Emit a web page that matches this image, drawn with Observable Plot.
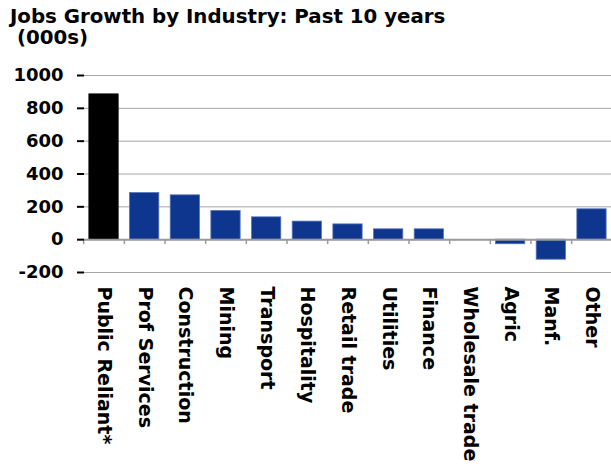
<!DOCTYPE html>
<html><head><meta charset="utf-8">
<script src="https://cdn.jsdelivr.net/npm/d3@7"></script>
<script src="https://cdn.jsdelivr.net/npm/@observablehq/plot@0.6"></script>
<style>
body{margin:0;background:#fff;font-family:"DejaVu Sans",Verdana,sans-serif;}
#title{font-weight:bold;font-size:19.8px;line-height:21px;padding:6px 0 0 10px;height:60px;box-sizing:border-box;white-space:pre;color:#000;}
#chart svg{display:block;}
</style></head><body>
<div id="title">Jobs Growth by Industry: Past 10 years
 (000s)</div>
<div id="chart"></div>
<script>
const industries = ["Public Reliant*","Prof Services","Construction","Mining","Transport","Hospitality","Retail trade","Utilities","Finance","Wholesale trade","Agric","Manf.","Other"];
const jobsGrowth = [885, 284, 270, 175, 136, 110, 93, 63, 63, 0, -28, -122, 185];
const highlight = "Public Reliant*";
const yTicks = [-200, 0, 200, 400, 600, 800, 1000];

const data = industries.map((name, i) => ({name, value: jobsGrowth[i]}));

const W = 611, ML = 84, MR = 0;
const padIn = 0.28, padOut = 0.12;
const step = (W - ML - MR) / (industries.length - padIn + 2 * padOut);

const chart = Plot.plot({
  width: W,
  height: 406,
  marginLeft: ML,
  marginRight: MR,
  marginTop: 15,
  marginBottom: 194,
  style: {fontFamily: "'DejaVu Sans', Verdana, sans-serif", fontWeight: "bold", color: "#000", background: "#fff"},
  x: {domain: industries, paddingInner: padIn, paddingOuter: padOut, round: false, label: null},
  y: {domain: [-200, 1000], label: null},
  marks: [
    Plot.ruleY(yTicks, {stroke: "#a6a6a6", strokeWidth: 1}),
    Plot.barY(data, {x: "name", y: "value", fill: d => d.name === highlight ? "#000" : "#0f368f",
      stroke: d => d.name === highlight ? "#000" : "#5574b8", strokeWidth: 0.8}),
    Plot.ruleY([0], {stroke: "#9a9a9a", strokeWidth: 2}),
    Plot.ruleX(industries, {x: d => d, y1: 0, y2: -30, dx: -step / 2, stroke: "#9a9a9a", strokeWidth: 1.5}),
    Plot.axisY({ticks: yTicks, tickFormat: d => String(d), tickSize: 7, tickPadding: 14, fontSize: 18, fontWeight: "bold", stroke: "#000", strokeWidth: 2}),
    Plot.ruleX([0], {frameAnchor: "left", y1: -200, y2: 1000, stroke: "#000", strokeWidth: 2}),
    Plot.axisX({tickRotate: 90, tickSize: 0, tickPadding: 14, fontSize: 19, fontWeight: "bold"})
  ]
});
document.getElementById("chart").appendChild(chart);
</script>
</body></html>
